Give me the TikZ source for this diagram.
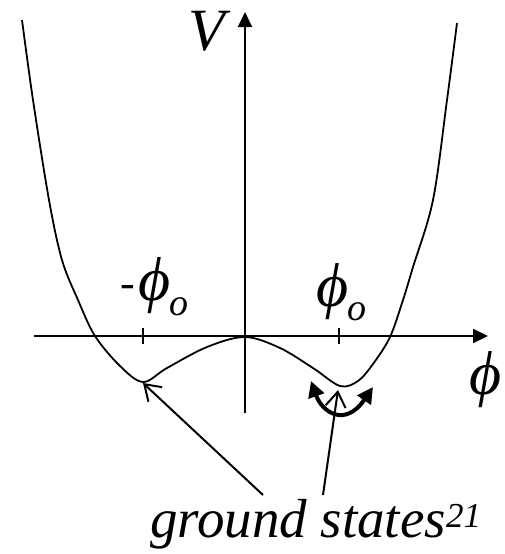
\documentclass[tikz,border=0pt]{standalone}
\usepackage{fontspec}
\setmainfont{Liberation Serif}
\usetikzlibrary{arrows.meta}
\newcommand{\fsz}[1]{\fontsize{#1}{#1}\selectfont}
\newcommand{\bigphi}{\fsz{62}\itshape ϕ}
\begin{document}
\begin{tikzpicture}[x=1pt,y=-1pt,
  axisline/.style={line width=2pt,-{Triangle[length=15pt,width=14pt]}},
  curveline/.style={line width=1.8pt},
  pointer/.style={line width=2pt,-{Straight Barb[length=15pt,width=20pt,line width=2pt]}},
  wiggle/.style={line width=4pt,{Triangle[length=16pt,width=16pt]}-{Triangle[length=16pt,width=16pt]}},
  lbl/.style={inner sep=0pt,font=\itshape}]
\path[use as bounding box,fill=white] (0,0) rectangle (505,554);
% axes
\coordinate (vbot) at (245,413);
\coordinate (vtop) at (245,12);
\coordinate (hleft) at (34,336);
\coordinate (hright) at (488,336);
\draw[axisline] (vbot) -- (vtop);
\draw[axisline] (hleft) -- (hright);
% ticks
\draw[line width=2pt] (143,328) -- (143,344);
\draw[line width=2pt] (339,328) -- (339,344);
% potential curve
\draw[curveline] plot[smooth,tension=0.55] coordinates {
 (22,20) (33,100) (49,200) (62,260) (78,300) (95,336) (120,366) (143,382)
 (167,368) (207,347) (245,337) (280,348) (313,368) (340,386) (358,381)
 (373,364) (390,337) (403,300) (413,267) (433,200) (447,100) (457,23)};
\coordinate (lmin) at (143,383);
\coordinate (rmin) at (338,390);
% labels
\node[lbl] (V) at (207,31) {\fsz{60}V};
\node[lbl] (lhyph) at (128,291) {\fsz{44}-};
\node[inner sep=0pt] (lphi) at (155,286) {\bigphi};
\node[lbl] (lo) at (179,307) {\fsz{38}o};
\node[inner sep=0pt] (rphi) at (333,292) {\bigphi};
\node[lbl] (ro) at (357,312) {\fsz{38}o};
\node[inner sep=0pt] (xphi) at (486,380) {\bigphi};
\node[lbl,anchor=base west] (gs) at (150,537) {\fsz{55}ground states\raisebox{10pt}{\fsz{35}21}};
% pointers
\coordinate (gsl) at (263,495);
\coordinate (gsr) at (323,495);
\draw[pointer] (gsl) -- (lmin);
\draw[pointer] (gsr) -- (rmin);
% fluctuation arrow
\coordinate (wl) at (311,381);
\coordinate (wr) at (373,387);
\draw[wiggle] (wl) .. controls (322,412) and (345,428) .. (wr);
\end{tikzpicture}
\end{document}
